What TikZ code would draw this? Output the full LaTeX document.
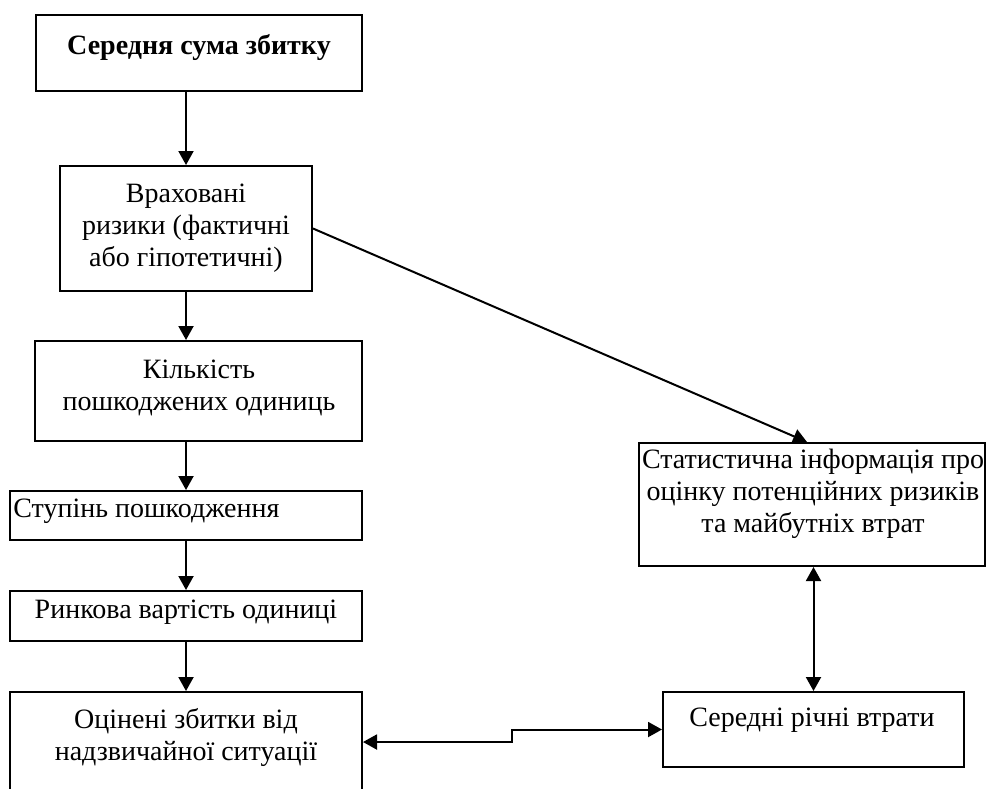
\documentclass[tikz,border=0pt]{standalone}
\usepackage{fontspec}
\setmainfont{Liberation Serif}
\usetikzlibrary{arrows.meta}
\tikzset{
  box/.style={draw, line width=1pt, inner sep=0pt},
  txt/.style={align=center, inner sep=0pt, font=\fontsize{14}{16}\selectfont},
  link/.style={line width=1pt, -{Triangle[length=7pt,width=7.5pt]}},
  both/.style={line width=1pt, {Triangle[length=7pt,width=7.5pt]}-{Triangle[length=7pt,width=7.5pt]}}
}
\begin{document}
\begin{tikzpicture}[x=0.5pt,y=-0.5pt]
\clip (0,0) rectangle (988,788);
% left column
\node[box, minimum width=163pt, minimum height=38pt] (avg) at (199,53) {};
\node[txt, font=\fontsize{14}{16}\selectfont\bfseries] (avgtxt) at (199,47) {Середня сума збитку};
\node[box, minimum width=126pt, minimum height=62.5pt] (risk) at (186,228.5) {};
\node[txt] (risktxt) at (186,228) {Враховані\\ризики (фактичні\\або гіпотетичні)};
\node[box, minimum width=163.5pt, minimum height=50pt] (count) at (198.5,391) {};
\node[txt] (counttxt) at (199,388) {Кількість\\пошкоджених одиниць};
\node[box, minimum width=176pt, minimum height=24.5pt] (degree) at (186,515.5) {};
\node[txt, anchor=west] (degreetxt) at (13,511) {Ступінь пошкодження};
\node[box, minimum width=176pt, minimum height=25pt] (market) at (186,616) {};
\node[txt] (markettxt) at (186,612) {Ринкова вартість одиниці};
\node[box, minimum width=176pt, minimum height=50pt] (loss) at (186,742) {};
\node[txt] (losstxt) at (186,737) {Оцінені збитки від\\надзвичайної ситуації};
% right column
\node[box, minimum width=173pt, minimum height=61.5pt] (stat) at (812,504.5) {};
\node[txt] (stattxt) at (813,494) {Статистична інформація про\\оцінку потенційних ризиків\\та майбутніх втрат};
\node[box, minimum width=150.5pt, minimum height=37.5pt] (annual) at (813.5,729.5) {};
\node[txt] (annualtxt) at (812,720) {Середні річні втрати};
\coordinate (kink) at (512,742);
% arrows
\draw[link] (risk.north |- avg.south) -- (risk.north);
\draw[link] (risk.south) -- (risk.south |- count.north);
\draw[link] (degree.north |- count.south) -- (degree.north);
\draw[link] (degree.south) -- (market.north);
\draw[link] (market.south) -- (loss.north);
\draw[link] (risk.east) -- ([xshift=-2.5pt]stat.north);
\draw[both] (annual.north |- stat.south) -- (annual.north);
\draw[both] (loss.east) -- (kink) -- (kink |- annual.west) -- (annual.west);
\end{tikzpicture}
\end{document}
